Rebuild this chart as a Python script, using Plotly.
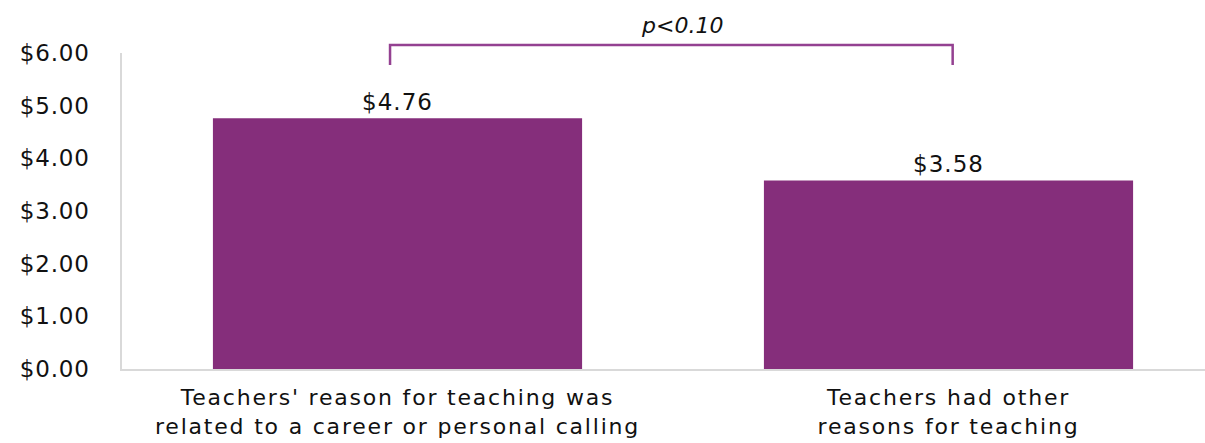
import plotly.graph_objects as go

categories = [
    "Teachers' reason for teaching was<br>related to a career or personal calling",
    "Teachers had other<br>reasons for teaching",
]
values = [4.76, 3.58]
value_labels = ["$4.76", "$3.58"]
tick_vals = [0, 1, 2, 3, 4, 5, 6]
tick_text = ["$0.00", "$1.00", "$2.00", "$3.00", "$4.00", "$5.00", "$6.00"]
sig_label = "p<0.10"

bar_color = "#852E7B"
bracket_color = "#944191"
font_family = "'DejaVu Sans', Verdana, sans-serif"

fig = go.Figure(
    go.Bar(
        x=[0, 1],
        y=values,
        width=0.67,
        marker=dict(color=bar_color, line=dict(width=0)),
        text=value_labels,
        textposition="outside",
        textfont=dict(size=23, color="#111111", family=font_family),
        cliponaxis=False,
    )
)

fig.update_layout(
    width=1205,
    height=443,
    margin=dict(l=122, r=0, t=53, b=74),
    paper_bgcolor="white",
    plot_bgcolor="white",
    showlegend=False,
    font=dict(family=font_family, color="#111111"),
    xaxis=dict(
        range=[-0.5, 1.4655],
        tickvals=[0, 1],
        ticktext=categories,
        tickfont=dict(size=22, color="#111111"),
        ticklabelstandoff=8,
        showgrid=False,
        showline=True,
        linecolor="#d9d9d9",
        linewidth=1.5,
        ticks="",
        zeroline=False,
    ),
    yaxis=dict(
        range=[0, 6],
        tickvals=tick_vals,
        ticktext=tick_text,
        tickfont=dict(size=23, color="#111111"),
        ticklabelstandoff=26,
        showgrid=False,
        showline=True,
        linecolor="#d9d9d9",
        linewidth=1.5,
        ticks="",
        ticklen=0,
        zeroline=False,
    ),
)

# significance bracket between the two bars
fig.add_shape(
    type="path",
    xref="paper",
    yref="paper",
    path="M 0.2475 0.962 L 0.2475 1.0253 L 0.767 1.0253 L 0.767 0.962",
    line=dict(color=bracket_color, width=2.5),
)
fig.add_annotation(
    x=0.517,
    y=1.0253,
    xref="paper",
    yref="paper",
    text=f"<i>{sig_label}</i>",
    showarrow=False,
    yanchor="bottom",
    yshift=5,
    font=dict(size=22, color="#111111", family=font_family),
)

# widen the tracking of the category labels and value labels
spacing_js = """
var gd = document.getElementById('{plot_id}');
function track() {
  gd.querySelectorAll('.xtick text, .xtick tspan').forEach(function (t) {
    t.setAttribute('letter-spacing', '1.8px');
  });
  gd.querySelectorAll('.ytick text').forEach(function (t) {
    t.setAttribute('letter-spacing', '0.8px');
  });
  gd.querySelectorAll('.bartext text, text.bartext').forEach(function (t) {
    t.setAttribute('letter-spacing', '1px');
  });
}
track();
gd.on('plotly_afterplot', track);
"""

fig.write_html("out.html", post_script=spacing_js)
